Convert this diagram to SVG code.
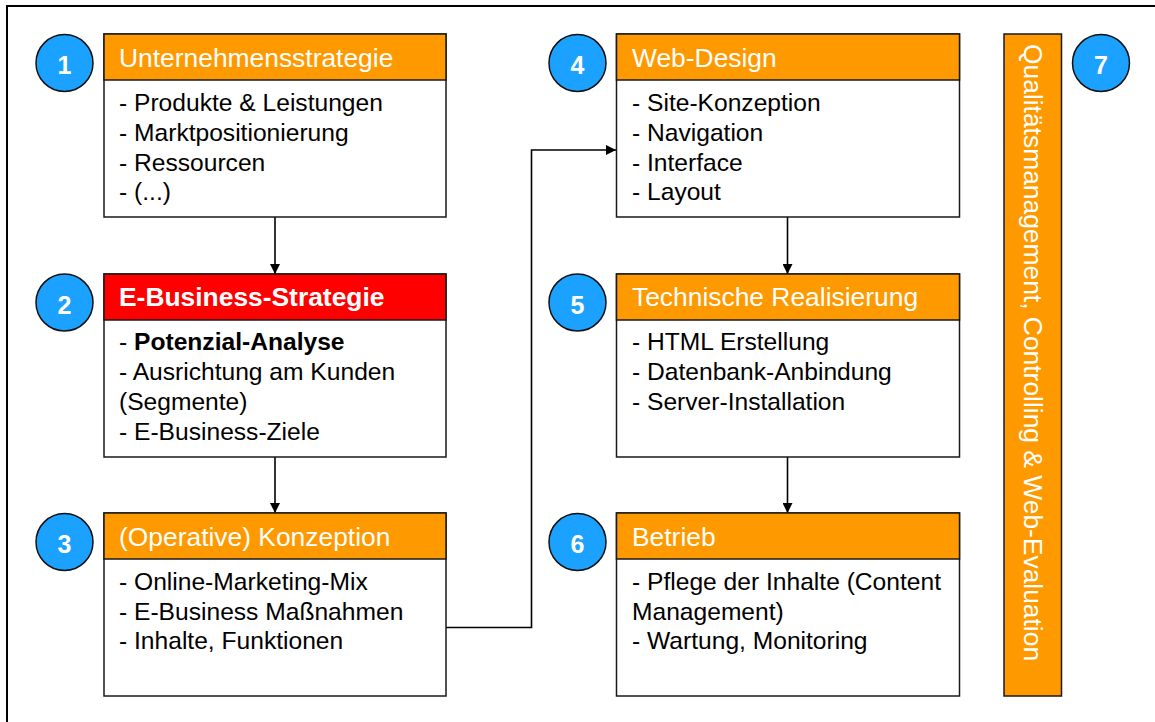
<svg xmlns="http://www.w3.org/2000/svg" width="1155" height="722" viewBox="0 0 1155 722">
<defs>
<style>
.frame{fill:none;stroke:#000;stroke-width:2}
.box{fill:#fff;stroke:#1a1a1a;stroke-width:1.5}
.hdr{fill:#FF9900;stroke:#1a1a1a;stroke-width:1.5}
.hdr-red{fill:#FF0000;stroke:#1a1a1a;stroke-width:1.5}
.num{fill:#1BA1FF;stroke:#111;stroke-width:1.5}
.numt{font-family:"Liberation Sans",Arial,sans-serif;font-size:25px;font-weight:bold;fill:#fff;text-anchor:middle}
.ht{font-family:"Liberation Sans",Arial,sans-serif;font-size:26.4px;fill:#fff}
.htb{font-family:"Liberation Sans",Arial,sans-serif;font-size:26.4px;fill:#fff;font-weight:bold}
.bt{font-family:"Liberation Sans",Arial,sans-serif;font-size:24.6px;fill:#000}
.conn{fill:none;stroke:#000;stroke-width:1.6}
</style>
<marker id="arr" viewBox="0 0 10 10" refX="10" refY="5" markerWidth="11" markerHeight="10" markerUnits="userSpaceOnUse" orient="auto">
<path d="M0,0 L10,5 L0,10 z" fill="#000"/>
</marker>
</defs>
<rect x="0" y="0" width="1155" height="722" fill="#fff"/>
<rect class="frame" x="7" y="6" width="1170" height="740"/>

<g id="connectors">
<line class="conn" x1="275" y1="217" x2="275" y2="274" marker-end="url(#arr)"/>
<line class="conn" x1="275" y1="457" x2="275" y2="513" marker-end="url(#arr)"/>
<path class="conn" d="M446,627.5 H531.5 V150 H616" marker-end="url(#arr)"/>
<line class="conn" x1="787.5" y1="217" x2="787.5" y2="274" marker-end="url(#arr)"/>
<line class="conn" x1="787.5" y1="457" x2="787.5" y2="513" marker-end="url(#arr)"/>
</g>

<g id="node1">
<rect class="box" x="104" y="34" width="342" height="183"/>
<rect class="hdr" x="104" y="34" width="342" height="46"/>
<text class="ht" x="119" y="67">Unternehmensstrategie</text>
<text class="bt" x="119" y="111">- Produkte &amp; Leistungen</text>
<text class="bt" x="119" y="141">- Marktpositionierung</text>
<text class="bt" x="119" y="170.5">- Ressourcen</text>
<text class="bt" x="119" y="200">- (...)</text>
<circle class="num" cx="64.5" cy="63" r="28.5"/>
<text class="numt" x="64.5" y="74">1</text>
</g>

<g id="node2">
<rect class="box" x="104" y="274" width="342" height="183"/>
<rect class="hdr-red" x="104" y="274" width="342" height="46"/>
<text class="htb" x="119" y="306">E-Business-Strategie</text>
<text class="bt" x="119" y="350">- <tspan font-weight="bold">Potenzial-Analyse</tspan></text>
<text class="bt" x="119" y="380">- Ausrichtung am Kunden</text>
<text class="bt" x="119" y="410">(Segmente)</text>
<text class="bt" x="119" y="440">- E-Business-Ziele</text>
<circle class="num" cx="64.5" cy="302.5" r="28.5"/>
<text class="numt" x="64.5" y="313.5">2</text>
</g>

<g id="node3">
<rect class="box" x="104" y="513" width="342" height="183"/>
<rect class="hdr" x="104" y="513" width="342" height="46"/>
<text class="ht" x="119" y="546">(Operative) Konzeption</text>
<text class="bt" x="119" y="590">- Online-Marketing-Mix</text>
<text class="bt" x="119" y="620">- E-Business Maßnahmen</text>
<text class="bt" x="119" y="649">- Inhalte, Funktionen</text>
<circle class="num" cx="64.5" cy="542" r="28.5"/>
<text class="numt" x="64.5" y="553">3</text>
</g>

<g id="node4">
<rect class="box" x="616.5" y="34" width="343" height="183"/>
<rect class="hdr" x="616.5" y="34" width="343" height="46"/>
<text class="ht" x="632" y="67">Web-Design</text>
<text class="bt" x="632" y="111">- Site-Konzeption</text>
<text class="bt" x="632" y="141">- Navigation</text>
<text class="bt" x="632" y="170.5">- Interface</text>
<text class="bt" x="632" y="200">- Layout</text>
<circle class="num" cx="577.5" cy="63" r="28.5"/>
<text class="numt" x="577.5" y="74">4</text>
</g>

<g id="node5">
<rect class="box" x="616.5" y="274" width="343" height="183"/>
<rect class="hdr" x="616.5" y="274" width="343" height="46"/>
<text class="ht" x="632" y="306">Technische Realisierung</text>
<text class="bt" x="632" y="350">- HTML Erstellung</text>
<text class="bt" x="632" y="380">- Datenbank-Anbindung</text>
<text class="bt" x="632" y="410">- Server-Installation</text>
<circle class="num" cx="577.5" cy="302.5" r="28.5"/>
<text class="numt" x="577.5" y="313.5">5</text>
</g>

<g id="node6">
<rect class="box" x="616.5" y="513" width="343" height="183"/>
<rect class="hdr" x="616.5" y="513" width="343" height="46"/>
<text class="ht" x="632" y="546">Betrieb</text>
<text class="bt" x="632" y="590">- Pflege der Inhalte (Content</text>
<text class="bt" x="632" y="620">Management)</text>
<text class="bt" x="632" y="649">- Wartung, Monitoring</text>
<circle class="num" cx="577.5" cy="542" r="28.5"/>
<text class="numt" x="577.5" y="553">6</text>
</g>

<g id="node7">
<rect class="hdr" x="1004" y="34" width="57.5" height="662"/>
<text class="ht" transform="translate(1023.5,44) rotate(90)" x="0" y="0">Qualitätsmanagement, Controlling &amp; Web-Evaluation</text>
<circle class="num" cx="1101" cy="63" r="28.5"/>
<text class="numt" x="1101" y="74">7</text>
</g>
</svg>
